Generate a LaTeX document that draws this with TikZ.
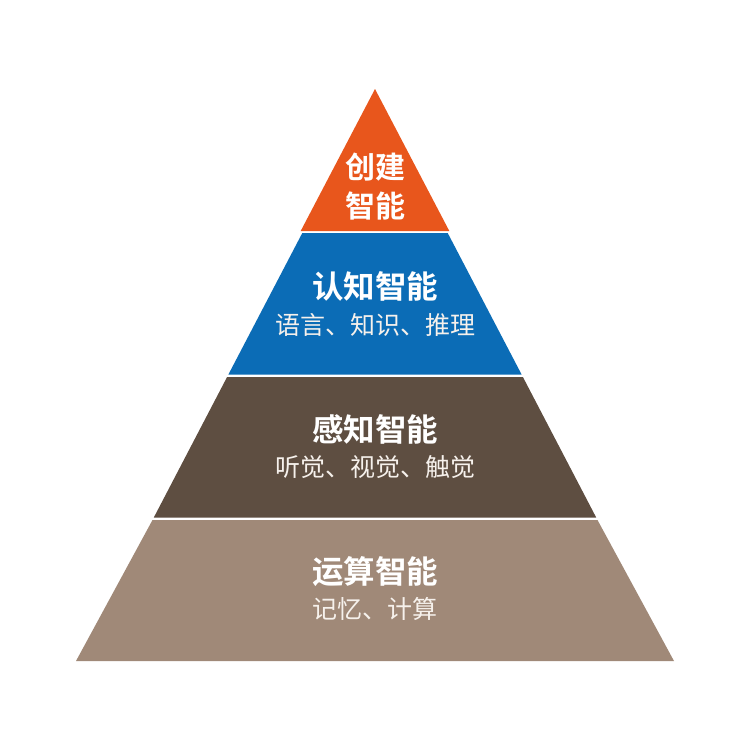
\documentclass[tikz,border=0pt]{standalone}
\usepackage{fontspec}
\newfontfamily\cjk{Noto Sans CJK SC}
\newfontfamily\cjkb{Noto Sans CJK SC Bold}
\definecolor{corange}{HTML}{E8561C}
\definecolor{cblue}{HTML}{0B6CB6}
\definecolor{cdark}{HTML}{5E4E41}
\definecolor{clight}{HTML}{A08978}
\definecolor{ctext}{HTML}{F6F1EC}
\begin{document}
\begin{tikzpicture}[x=1pt,y=-1pt,
  toptitle/.style={text=white,font=\cjkb\fontsize{30}{34}\selectfont,inner sep=0pt,anchor=center},
  title/.style={text=white,font=\cjkb\fontsize{31.5}{36}\selectfont,inner sep=0pt,anchor=center},
  sub/.style={text=ctext,font=\cjk\fontsize{25}{30}\selectfont,inner sep=0pt,anchor=center}]
\useasboundingbox (0,0) rectangle (750,750);
\fill[white] (0,0) rectangle (750,750);
% apex (375,89), base y=661 halfwidth 299
\fill[corange] (375,89) -- (449.3,231) -- (300.7,231) -- cycle;
\fill[cblue] (302.3,233) -- (447.7,233) -- (521.6,374.5) -- (228.4,374.5) -- cycle;
\fill[cdark] (227.1,377) -- (522.9,377) -- (596.2,517.5) -- (153.8,517.5) -- cycle;
\fill[clight] (152.5,520) -- (597.5,520) -- (674,661) -- (76,661) -- cycle;
\node[toptitle] (t1a) at (375,167) {创建};
\node[toptitle] (t1b) at (375,206) {智能};
\node[title] (t2) at (375,286) {认知智能};
\node[sub] (s2) at (375,325) {语言、知识、推理};
\node[title] (t3) at (375,429) {感知智能};
\node[sub] (s3) at (375,467) {听觉、视觉、触觉};
\node[title] (t4) at (375,572) {运算智能};
\node[sub] (s4) at (375,609) {记忆、计算};
\end{tikzpicture}
\end{document}
